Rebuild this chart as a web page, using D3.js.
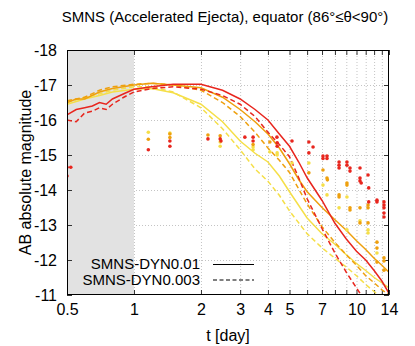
<!DOCTYPE html>
<html>
<head>
<meta charset="utf-8">
<script src="https://cdn.jsdelivr.net/npm/d3@7"></script>
<style>
  body { margin: 0; background: #fff; }
  svg text { font-family: "Liberation Sans", Arial, Helvetica, sans-serif; fill: #000; }
</style>
</head>
<body>
<svg id="chart" width="415" height="346"></svg>
<script>
/* SMNS light curves, equator view */

const xTicks  = [0.5, 1, 2, 3, 4, 5, 6, 7, 8, 9, 10, 11, 12, 13, 14];
const xLabels = [0.5, 1, 2, 3, 4, 5, 7, 10, 14];
const yTicks  = [-18, -17, -16, -15, -14, -13, -12, -11];

// model curves  [t, mag]
const redSolid = [[0.5,-16.15],[0.55,-16.3],[0.6,-16.35],[0.65,-16.4],[0.7,-16.5],[0.75,-16.45],[0.8,-16.6],[0.9,-16.75],[1,-16.88],[1.2,-16.95],[1.5,-17.02],[2,-17.02],[2.5,-16.85],[3,-16.6],[3.5,-16.3],[4,-16.0],[4.5,-15.6],[5,-15.25],[5.5,-14.8],[6,-14.35],[7,-13.7],[8,-13.05],[9,-12.6],[10,-12.25],[11,-12.0],[12,-11.7],[13,-11.4],[14,-11.05]];
const redDash  = [[0.5,-16.0],[0.55,-15.95],[0.6,-16.2],[0.65,-16.25],[0.7,-16.35],[0.75,-16.3],[0.8,-16.45],[0.9,-16.65],[1,-16.8],[1.2,-16.9],[1.5,-16.95],[2,-16.88],[2.5,-16.7],[3,-16.45],[3.5,-16.1],[4,-15.65],[4.5,-15.3],[5,-14.95],[5.5,-14.35],[6,-13.75],[7,-12.9],[8,-12.2],[9,-11.65],[10,-11.2],[10.5,-11.0]];
const orangeSolid = [[0.5,-16.5],[0.55,-16.6],[0.6,-16.6],[0.7,-16.8],[0.8,-16.9],[1,-17.0],[1.2,-17.05],[1.5,-17.0],[2,-16.92],[2.5,-16.65],[3,-16.3],[3.5,-15.95],[4,-15.6],[4.5,-15.2],[5,-14.75],[5.5,-14.3],[6,-13.95],[7,-13.5],[8,-13.15],[9,-12.85],[10,-12.55],[11,-12.3],[12,-12.05],[13,-11.85],[14,-11.65]];
const orangeDash  = [[0.5,-16.55],[0.6,-16.65],[0.7,-16.85],[0.8,-16.95],[1,-17.02],[1.2,-17.05],[1.5,-17.0],[2,-16.85],[2.5,-16.5],[3,-16.1],[3.5,-15.65],[4,-15.2],[4.5,-14.85],[5,-14.5],[6,-13.6],[7,-12.95],[8,-12.5],[9,-12.15],[10,-11.85],[11,-11.55],[12,-11.35],[13,-11.15],[14,-11.0]];
const yellowSolid = [[0.5,-16.45],[0.6,-16.6],[0.7,-16.7],[0.8,-16.8],[1,-16.88],[1.2,-16.9],[1.5,-16.78],[2,-16.45],[2.5,-15.95],[3,-15.4],[3.5,-15.05],[4,-14.8],[4.5,-14.4],[5,-13.95],[6,-13.2],[7,-12.75],[8,-12.45],[9,-12.15],[10,-11.9],[11,-11.7],[12,-11.5],[13,-11.35],[14,-11.2]];
const yellowDash  = [[0.5,-16.5],[0.6,-16.65],[0.7,-16.75],[0.8,-16.85],[1,-16.95],[1.2,-16.95],[1.5,-16.8],[2,-16.35],[2.5,-15.75],[3,-15.15],[3.5,-14.6],[4,-14.25],[4.5,-13.85],[5,-13.4],[6,-12.75],[7,-12.35],[8,-12.05],[9,-11.8],[10,-11.55],[11,-11.3],[12,-11.1],[12.5,-11.0]];

// observed points  [t, mag]
const redPts = [[0.5,-14.65],[0.52,-14.65],[0.5,-14.4],[1.16,-15.15],[1.45,-15.4],[1.45,-15.25],[2.15,-15.46],[2.44,-15.46],[2.46,-15.4],[3.15,-15.51],[3.43,-15.51],[3.43,-15.4],[4.39,-15.51],[4.4,-15.35],[4.4,-15.25],[5.13,-15.4],[6.11,-15.37],[6.38,-15.23],[6.11,-15.06],[7.07,-14.97],[7.07,-14.9],[7.37,-14.97],[7.37,-14.9],[8.35,-14.8],[8.35,-14.71],[8.35,-14.63],[9.06,-14.8],[9.06,-14.71],[9.35,-14.63],[9.35,-14.54],[10.37,-14.63],[10.37,-14.34],[10.37,-14.26],[10.5,-14.2],[11.27,-14.43],[11.35,-14.06],[11.35,-13.66],[12.36,-13.71],[12.36,-13.66],[13.29,-13.66],[13.29,-13.57],[13.29,-13.49],[13.29,-13.34],[13.29,-13.23]];
const orangePts = [[1.16,-15.45],[1.45,-15.5],[1.45,-15.6],[2.15,-15.57],[2.44,-15.55],[3.43,-15.3],[4.08,-15.37],[6.11,-14.49],[7.07,-14.57],[7.37,-14.34],[7.4,-14.29],[8.35,-13.86],[8.35,-13.8],[9.06,-14.2],[9.06,-14.14],[9.35,-13.49],[9.35,-13.43],[10.37,-13.49],[11.27,-13.57],[11.27,-13.49],[10.37,-13.06],[11.27,-13.06],[12.36,-12.51],[12.36,-12.34],[12.36,-11.94],[13.29,-12.06],[13.29,-11.97],[13.29,-11.71]];
const yellowPts = [[1.16,-15.65],[1.45,-15.63],[2.44,-15.37],[2.44,-15.25],[3.43,-15.23],[3.43,-15.15],[4.08,-15.09],[4.4,-15.06],[4.4,-15.0],[5.13,-14.77],[6.11,-14.77],[7.07,-14.14],[7.37,-13.86],[8.35,-13.49],[9.06,-13.8],[9.06,-12.86],[10.37,-13.12],[11.27,-12.86],[11.27,-12.77],[12.36,-12.2]];

const RED = "#e8261e", ORANGE = "#eea00e", YELLOW = "#f5df48";

const svg = d3.select("#chart");
const L = 67, R = 389, T = 50, B = 295;

const x = d3.scaleLog().domain([0.5, 14]).range([L, R]);
const y = d3.scaleLinear().domain([-18, -11]).range([T, B]);

/* -- grid --------------------------------------------------------------- */
const grid = svg.append("g").attr("stroke", "#c4c4c4").attr("stroke-dasharray", "1,2").attr("stroke-width", 1);
grid.selectAll("line.h").data(yTicks.slice(1, -1)).enter().append("line")
  .attr("x1", L).attr("x2", R).attr("y1", d => y(d) + 0.5).attr("y2", d => y(d) + 0.5);
grid.selectAll("line.v").data(xTicks.slice(1, -1)).enter().append("line")
  .attr("x1", d => x(d) + 0.5).attr("x2", d => x(d) + 0.5).attr("y1", T).attr("y2", B);

/* -- shaded early window ------------------------------------------------ */
svg.append("rect")
  .attr("x", x(0.5)).attr("y", T)
  .attr("width", x(1) - x(0.5)).attr("height", B - T)
  .attr("fill", "#e2e2e2");

/* -- axes --------------------------------------------------------------- */
const fmt = d => xLabels.includes(d) ? String(d) : "";
const axB = svg.append("g").attr("transform", `translate(0,${B})`)
  .call(d3.axisBottom(x).tickValues(xTicks).tickFormat(fmt).tickSizeInner(-5).tickSizeOuter(0).tickPadding(9));
const axT = svg.append("g").attr("transform", `translate(0,${T})`)
  .call(d3.axisTop(x).tickValues(xTicks).tickFormat("").tickSizeInner(-5).tickSizeOuter(0));
const axL = svg.append("g").attr("transform", `translate(${L},0)`)
  .call(d3.axisLeft(y).tickValues(yTicks).tickFormat(d => d).tickSizeInner(-5).tickSizeOuter(0).tickPadding(10));
const axR = svg.append("g").attr("transform", `translate(${R},0)`)
  .call(d3.axisRight(y).tickValues(yTicks).tickFormat("").tickSizeInner(-5).tickSizeOuter(0));
[axB, axT, axL, axR].forEach(a => {
  a.select(".domain").remove();
  a.selectAll("line").attr("stroke", "#333");
  a.selectAll("text").attr("font-size", 16).attr("font-family", "Liberation Sans, Arial, sans-serif");
});

/* -- curves ------------------------------------------------------------- */
const line = d3.line().x(d => x(d[0])).y(d => y(d[1]));
svg.append("clipPath").attr("id", "clip").append("rect")
  .attr("x", L).attr("y", T).attr("width", R - L).attr("height", B - T);
const plot = svg.append("g").attr("clip-path", "url(#clip)");

const curves = [
  [yellowDash, YELLOW, true], [yellowSolid, YELLOW, false],
  [orangeDash, ORANGE, true], [orangeSolid, ORANGE, false],
  [redDash, RED, true], [redSolid, RED, false]
];
plot.selectAll("path.curve").data(curves).enter().append("path")
  .attr("class", "curve")
  .attr("d", d => line(d[0]))
  .attr("fill", "none")
  .attr("stroke", d => d[1])
  .attr("stroke-width", 1.5)
  .attr("stroke-dasharray", d => d[2] ? "5,3" : null);

/* -- observed points ---------------------------------------------------- */
[[yellowPts, YELLOW], [orangePts, ORANGE], [redPts, RED]].forEach(([pts, c]) => {
  plot.append("g").selectAll("circle").data(pts).enter().append("circle")
    .attr("cx", d => x(d[0])).attr("cy", d => y(d[1])).attr("r", 1.8).attr("fill", c);
});

/* -- frame -------------------------------------------------------------- */
svg.append("rect").attr("x", L + 0.5).attr("y", T + 0.5)
  .attr("width", R - L - 1).attr("height", B - T - 1)
  .attr("fill", "none").attr("stroke", "#000").attr("stroke-width", 1);

/* -- legend ------------------------------------------------------------- */
const legend = [["SMNS-DYN0.01", null], ["SMNS-DYN0.003", "4,2.5"]];
const lg = svg.append("g");
legend.forEach(([name, dash], i) => {
  const ly = 264 + i * 15.5;
  lg.append("text").attr("x", 200).attr("y", ly).attr("dy", "0.35em")
    .attr("text-anchor", "end").attr("font-size", 15).text(name);
  lg.append("line").attr("x1", 213).attr("x2", 254).attr("y1", ly + 0.5).attr("y2", ly + 0.5)
    .attr("stroke", "#000").attr("stroke-width", 1.2).attr("stroke-dasharray", dash);
});

/* -- titles ------------------------------------------------------------- */
svg.append("text").attr("x", 225).attr("y", 22).attr("text-anchor", "middle")
  .attr("font-size", 15).text("SMNS (Accelerated Ejecta), equator (86°≤θ<90°)");
svg.append("text").attr("x", (L + R) / 2).attr("y", 341).attr("text-anchor", "middle")
  .attr("font-size", 16).text("t [day]");
svg.append("text").attr("transform", `translate(31,${(T + B) / 2}) rotate(-90)`)
  .attr("text-anchor", "middle").attr("font-size", 16).text("AB absolute magnitude");
</script>
</body>
</html>
